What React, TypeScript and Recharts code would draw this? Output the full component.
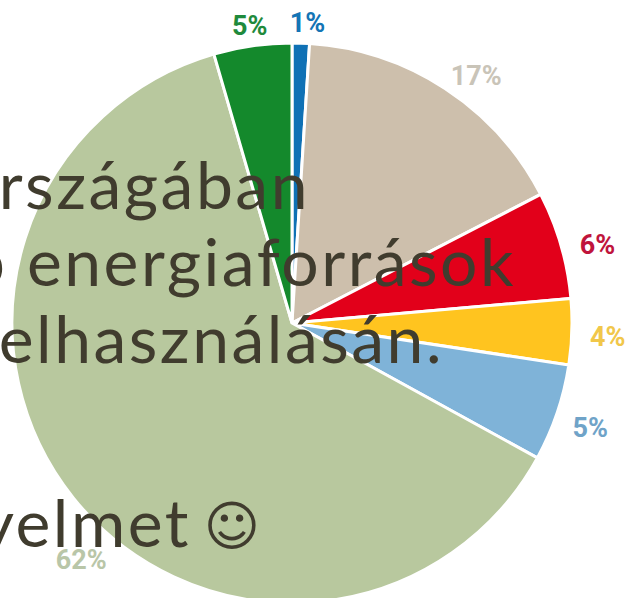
import { PieChart, Pie, Cell } from 'recharts';

const sliceNames = ['Blue', 'Tan', 'Red', 'Yellow', 'Light blue', 'Sage', 'Green'];
const sliceValues = [1, 16.4, 6.2, 3.8, 5.6, 62.5, 4.5];
const sliceLabels = ['1%', '17%', '6%', '4%', '5%', '62%', '5%'];
const sliceColors = ['#0f71b5', '#cdbfac', '#e2001a', '#ffc41f', '#7fb3d8', '#b8c89e', '#14892c'];
const labelColors = ['#1475b5', '#c9c4b8', '#c0143c', '#f1c74a', '#6fa3c8', '#b9c6a8', '#1f8a3c'];

const slides = [
  { text: 'országában', x: 310, y: 209 },
  { text: 'p energiaforrások', x: 516, y: 286 },
  { text: 'felhasználásán.', x: 444, y: 363 },
  { text: 'figyelmet', x: 191, y: 547 },
];

const chartData = sliceNames.map((name, i) => ({ name, value: sliceValues[i] }));

// labels sit a bit outside the rim, a few need a nudge to where the original has them
const labelNudge = [[6, 0], [16, 11], [3, 10], [1, 4], [0, 4], [35, 40], [0, 0]];

const renderLabel = (props: any) => {
  const { cx, cy, midAngle, outerRadius, index } = props;
  const rad = (midAngle * Math.PI) / 180;
  const r = outerRadius + (index === 0 || index === 6 ? 20 : index === 1 ? 28 : 35);
  const [dx, dy] = labelNudge[index];
  return (
    <text
      x={cx + r * Math.cos(rad) + dx}
      y={cy - r * Math.sin(rad) + dy}
      textAnchor="middle"
      dominantBaseline="central"
      fontFamily="Roboto"
      fontWeight={700}
      fontSize={27}
      fill={labelColors[index]}
    >
      {sliceLabels[index]}
    </text>
  );
};

export default function App() {
  return (
    <div style={{ position: 'absolute', left: 0, top: 0, width: 629, height: 598, overflow: 'hidden', background: '#fff' }}>
      <PieChart width={629} height={598} margin={{ top: 0, right: 0, bottom: 0, left: 0 }}>
        <Pie
          data={chartData}
          dataKey="value"
          cx={292}
          cy={323}
          innerRadius={0}
          outerRadius={280}
          startAngle={90}
          endAngle={-270}
          stroke="#fff"
          strokeWidth={3}
          label={renderLabel}
          labelLine={false}
          isAnimationActive={false}
        >
          {chartData.map((d, i) => (
            <Cell key={d.name} fill={sliceColors[i]} />
          ))}
        </Pie>
      </PieChart>
      <svg width={629} height={598} style={{ position: 'absolute', left: 0, top: 0 }}>
        {slides.map((s) => (
          <text key={s.text} x={s.x} y={s.y} textAnchor="end" fontFamily="Lato" fontWeight={400} fontSize={66} letterSpacing={2.5} fill="#403c2e">
            {s.text}
          </text>
        ))}
        <text x={232} y={545} textAnchor="middle" fontFamily="DejaVu Sans" fontSize={54} fill="#403c2e">☺</text>
      </svg>
    </div>
  );
}
